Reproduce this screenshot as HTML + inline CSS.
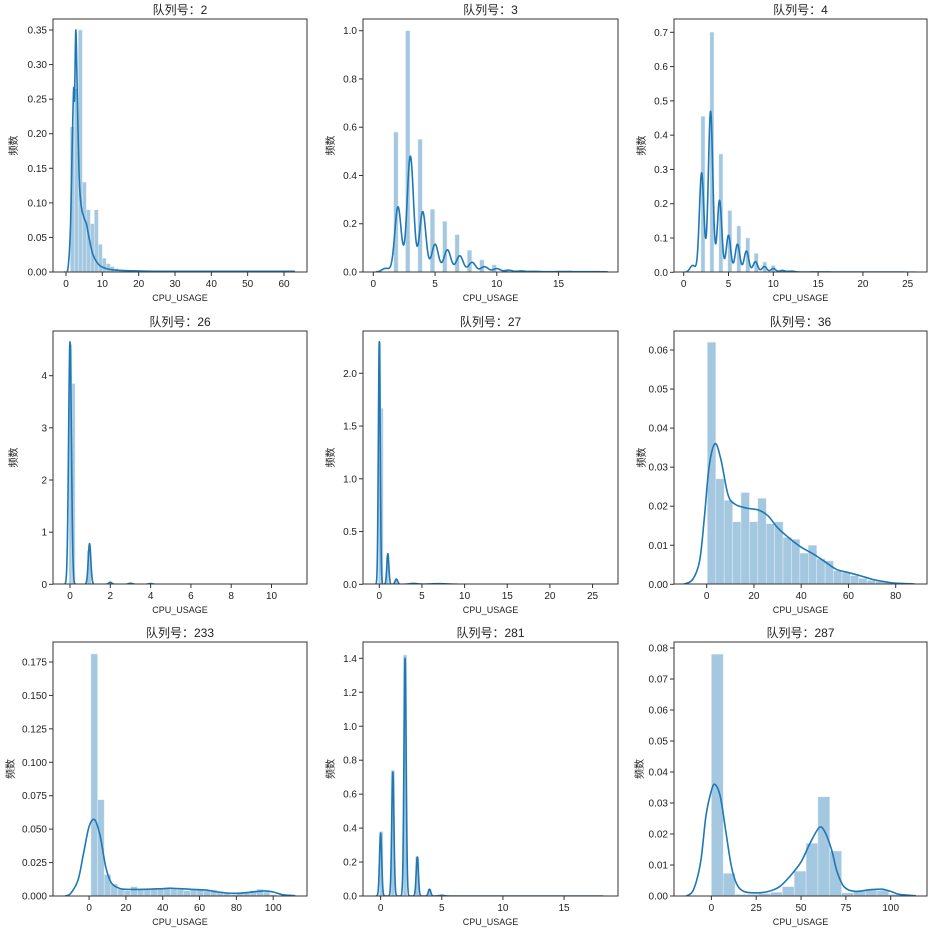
<!DOCTYPE html>
<html><head><meta charset="utf-8"><style>
html,body{margin:0;padding:0;background:#fff;}
svg{display:block;}
text{font-family:"Liberation Sans","Noto Sans CJK SC",sans-serif;fill:#222;}
</style></head><body>
<svg id="s" width="930" height="931" xmlns="http://www.w3.org/2000/svg"></svg>
<script>
function bins(start,w,hs){return hs.map((h,i)=>[start+i*w,start+(i+1)*w,h]);}
function nbars(cs,w,hs){return hs.map((h,i)=>[cs[i]-w/2,cs[i]+w/2,h]);}
function mix(a,b,comps,step){const p=[];for(let x=a;x<=b+1e-9;x+=step){let y=0;for(const c of comps)y+=c[1]*Math.exp(-(x-c[0])*(x-c[0])/(2*c[2]*c[2]));p.push([x,y]);}return p;}
function rng(a,b,s){const r=[];for(let v=a;v<=b+1e-9;v+=s)r.push(+v.toFixed(6));return r;}
const P=[
{box:[53,19,307,272],t:'2',x0:66,kx:218/60,y0:272,ky:242/0.35,xt:rng(0,60,10),xd:0,yt:rng(0,.35,.05),yd:2,yl:13,
 bars:bins(1.2,1.1,[0.21,0.265,0.35,0.13,0.09,0.07,0.09,0.04,0.02,0.012,0.008,0.005,0.003,0.002,0.002,0.001,0.001,0.001,0.001,0.001,0.001,0.001,0.001,0.001,0.001,0.001,0.001,0.001,0.001,0.001,0.001,0.001,0.001,0.001,0.001,0.001,0.001,0.001,0.001,0.001,0.001,0.001,0.001,0.001,0.001,0.001,0.001,0.001,0.001,0.001,0.001,0.001,0.001,0.001,0.001,0.001]),
 pts:[[-0.5,0],[0.5,0.004],[1.2,0.06],[1.7,0.18],[2.1,0.265],[2.35,0.25],[2.7,0.35],[3.1,0.26],[3.6,0.14],[4.2,0.095],[5,0.078],[5.6,0.07],[6.4,0.048],[7.3,0.027],[8.5,0.014],[10,0.007],[13,0.003],[20,0.0015],[30,0.001],[63,0.001]]},
{box:[363,19,618,272],t:'3',x0:373.3,kx:12.35,y0:272,ky:241.3,xt:[0,5,10,15],xd:0,yt:rng(0,1,.2),yd:1,yl:330,
 bars:nbars([1.83,2.79,3.79,4.79,5.79,6.79,7.79,8.79,9.79,10.79,11.79,12.79,13.79,14.8,15.8,16.8,17.8,18.6],0.36,[0.58,1.0,0.55,0.26,0.21,0.155,0.09,0.05,0.03,0.012,0.008,0.004,0.003,0.002,0.002,0.002,0.002,0.002]),
 curve:mix(0.2,19,[[1,0.015,0.3],[2,0.27,0.26],[3,0.48,0.26],[4,0.25,0.26],[5,0.115,0.27],[6,0.092,0.28],[7,0.067,0.28],[8,0.04,0.28],[9,0.022,0.3],[10,0.014,0.3],[11,0.007,0.3],[12,0.004,0.3],[13,0.002,0.4],[15,0.0015,1.5],[18,0.001,1.5]],0.03)},
{box:[674,19,927,272],t:'4',x0:683.7,kx:8.96,y0:272.3,ky:240/0.7,xt:rng(0,25,5),xd:0,yt:rng(0,.7,.1),yd:1,yl:641,
 bars:nbars([2.15,3.15,4.15,5.15,6.15,7.15,8.1,9.05,10,11,12,13,14,15,16,17,18,19,20,21,22,23,24,25.5],0.45,[0.455,0.70,0.345,0.18,0.135,0.10,0.055,0.03,0.02,0.008,0.004,0.003,0.002,0.002,0.001,0.001,0.001,0.001,0.001,0.001,0.001,0.001,0.001,0.001]),
 curve:mix(0.1,26,[[1,0.02,0.3],[2,0.29,0.25],[3,0.47,0.25],[4,0.21,0.25],[5,0.108,0.25],[6,0.082,0.26],[7,0.062,0.26],[8,0.031,0.26],[9,0.017,0.27],[10,0.011,0.28],[11,0.005,0.3],[12,0.003,0.4],[15,0.001,2],[22,0.0008,3]],0.03)},
{box:[53,331,307,584],t:'26',x0:70,kx:20.15,y0:584.3,ky:52.15,xt:rng(0,10,2),xd:0,yt:rng(0,4,1),yd:0,yl:13,
 bars:[[-0.05,0.1,4.6],[0.1,0.25,3.85],[0.85,1.05,0.65],[1.9,2.05,0.03],[2.95,3.1,0.02]],
 curve:mix(-0.25,11.2,[[0,4.65,0.07],[0.97,0.78,0.065],[2,0.04,0.08],[3,0.02,0.1],[4,0.015,0.1]],0.01)},
{box:[363,331,618,584],t:'27',x0:379.3,kx:8.53,y0:584.3,ky:105.5,xt:rng(0,25,5),xd:0,yt:rng(0,2,.5),yd:1,yl:330,
 bars:[[-0.1,0.2,2.3],[0.2,0.45,1.67],[0.8,1.1,0.25],[1.8,2.1,0.04]],
 curve:mix(-0.4,26.5,[[0,2.3,0.11],[1,0.29,0.12],[2,0.05,0.15],[4,0.008,0.5],[7,0.006,1]],0.02)},
{box:[674,331,927,584],t:'36',x0:706.7,kx:2.3625,y0:584.3,ky:3905,xt:rng(0,80,20),xd:0,yt:rng(0,.06,.01),yd:2,yl:641,
 bars:bins(0.27,3.56,[0.062,0.027,0.0215,0.016,0.0235,0.016,0.022,0.0155,0.016,0.012,0.0115,0.008,0.010,0.0065,0.006,0.0035,0.003,0.0022,0.0015,0.001,0.0008,0.0005,0.0003,0.0002]),
 pts:[[-10,0],[-6,0.0012],[-3,0.006],[-1,0.017],[1,0.03],[3.5,0.036],[6,0.032],[9,0.023],[12,0.0205],[17,0.0195],[22,0.019],[26,0.0175],[30,0.0145],[35,0.0118],[40,0.0095],[45,0.0078],[50,0.0058],[55,0.0038],[60,0.003],[65,0.0022],[70,0.0013],[75,0.0007],[80,0.0003],[88,0.0001]]},
{box:[53,642,307,896],t:'233',x0:89.1,kx:1.841,y0:896,ky:33.43/0.025,xt:rng(0,100,20),xd:0,yt:rng(0,.175,.025),yd:3,yl:10,
 bars:bins(1,3.6,[0.181,0.072,0.016,0.009,0.005,0.004,0.007,0.005,0.005,0.005,0.005,0.006,0.006,0.005,0.004,0.005,0.005,0.004,0.0045,0.003,0.002,0.001,0.002,0.003,0.004,0.005,0.003,0.001]),
 pts:[[-13,0],[-10,0.002],[-6,0.012],[-3,0.032],[0,0.052],[3,0.057],[6,0.045],[9,0.022],[12,0.01],[16,0.006],[20,0.005],[30,0.005],[40,0.0055],[45,0.0058],[55,0.005],[63,0.0045],[70,0.003],[78,0.002],[85,0.0025],[95,0.0038],[100,0.003],[105,0.001],[112,0.0002]]},
{box:[363,642,618,896],t:'281',x0:380.6,kx:12.23,y0:896,ky:33.95/0.2,xt:[0,5,10,15],xd:0,yt:rng(0,1.4,.2),yd:1,yl:330,
 bars:nbars([0.05,1,2,3,4],0.3,[0.38,0.74,1.42,0.23,0.04]),
 curve:mix(-0.4,18.2,[[0,0.37,0.09],[1,0.73,0.09],[2,1.40,0.09],[3,0.23,0.09],[4,0.04,0.1],[5,0.004,0.2]],0.01)},
{box:[674,642,927,896],t:'287',x0:711.4,kx:1.793,y0:896,ky:3100,xt:rng(0,100,25),xd:0,yt:rng(0,.08,.01),yd:2,yl:639,
 bars:bins(0,6.6,[0.078,0.0073,0.0005,0.0005,0.0008,0.0012,0.003,0.008,0.017,0.032,0.0145,0.001,0.0015,0.002,0.0018,0.0005]),
 pts:[[-14,0],[-10,0.002],[-6,0.011],[-3,0.026],[0,0.034],[2,0.036],[5,0.032],[8,0.021],[11,0.01],[14,0.004],[18,0.0015],[25,0.001],[32,0.0015],[38,0.003],[44,0.0065],[50,0.011],[55,0.017],[60,0.022],[63,0.021],[67,0.015],[70,0.008],[74,0.003],[80,0.0015],[88,0.002],[95,0.0022],[100,0.0015],[105,0.0005],[114,0.0001]]}
];
function cr(pts){let d='M'+pts[0][0].toFixed(2)+','+pts[0][1].toFixed(2);for(let i=0;i<pts.length-1;i++){const p0=pts[Math.max(0,i-1)],p1=pts[i],p2=pts[i+1],p3=pts[Math.min(pts.length-1,i+2)];const c1=[p1[0]+(p2[0]-p0[0])/6,p1[1]+(p2[1]-p0[1])/6],c2=[p2[0]-(p3[0]-p1[0])/6,p2[1]-(p3[1]-p1[1])/6];d+=`C${c1[0].toFixed(2)},${c1[1].toFixed(2)} ${c2[0].toFixed(2)},${c2[1].toFixed(2)} ${p2[0].toFixed(2)},${p2[1].toFixed(2)}`;}return d;}
let h='';
P.forEach((p,i)=>{
 const [L,T,R,B]=p.box;const X=v=>p.x0+v*p.kx,Y=v=>p.y0-v*p.ky;
 h+=`<clipPath id="c${i}"><rect x="${L}" y="${T}" width="${R-L}" height="${B-T}"/></clipPath><g clip-path="url(#c${i})">`;
 p.bars.forEach(b=>{const x1=X(b[0]),x2=X(b[1]),y=Y(b[2]);h+=`<rect x="${x1.toFixed(2)}" y="${y.toFixed(2)}" width="${(x2-x1).toFixed(2)}" height="${(p.y0-y).toFixed(2)}" fill="#a5c8e1" stroke="#e2eef7" stroke-width="0.5"/>`;});
 if(p.curve){h+=`<polyline fill="none" stroke="#1f77b4" stroke-width="1.6" stroke-linejoin="round" points="${p.curve.map(q=>X(q[0]).toFixed(2)+','+Y(q[1]).toFixed(2)).join(' ')}"/>`;}
 else{h+=`<path fill="none" stroke="#1f77b4" stroke-width="1.6" d="${cr(p.pts.map(q=>[X(q[0]),Y(q[1])]))}"/>`;}
 h+=`</g><rect x="${L}" y="${T}" width="${R-L}" height="${B-T}" fill="none" stroke="#333" stroke-width="1"/>`;
 p.xt.forEach(v=>{const x=X(v);h+=`<line x1="${x}" y1="${B}" x2="${x}" y2="${B+4}" stroke="#333"/><text x="${x}" y="${B+15}" font-size="10" text-anchor="middle">${v.toFixed(p.xd)}</text>`;});
 p.yt.forEach(v=>{const y=Y(v);h+=`<line x1="${L-4}" y1="${y}" x2="${L}" y2="${y}" stroke="#333"/><text x="${L-6}" y="${y+3.5}" font-size="10" text-anchor="end">${v.toFixed(p.yd)}</text>`;});
 h+=`<text x="${(L+R)/2}" y="${T-5}" font-size="12" text-anchor="middle">队列号：${p.t}</text>`;
 h+=`<text x="${(L+R)/2}" y="${B+29}" font-size="9" text-anchor="middle">CPU_USAGE</text>`;
 h+=`<text transform="translate(${p.yl+4},${(T+B)/2}) rotate(-90)" font-size="10" text-anchor="middle">频数</text>`;
});
document.getElementById('s').innerHTML=h;
</script>
</body></html>
